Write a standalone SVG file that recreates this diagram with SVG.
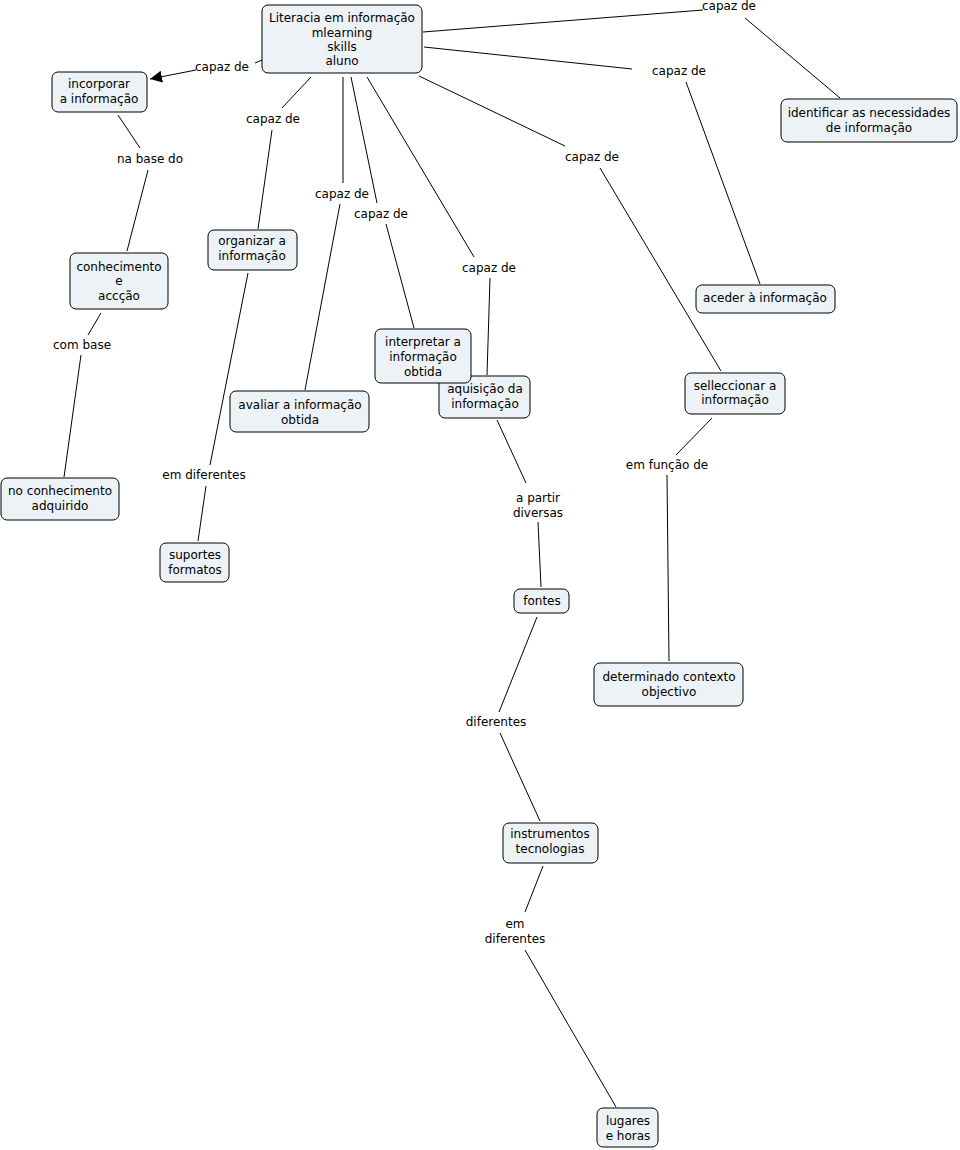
<svg xmlns="http://www.w3.org/2000/svg" width="960" height="1150" viewBox="0 0 960 1150">
<style>
.n rect{fill:#ecf2f5;stroke:#000;stroke-width:1}
text{font-family:"DejaVu Sans",Verdana,sans-serif;font-size:12px;fill:#000;text-anchor:middle}
.c line{stroke:#000;stroke-width:1}
</style>
<defs>
<marker id="ah" viewBox="0 0 10 10" refX="10" refY="5" markerWidth="12" markerHeight="12" markerUnits="userSpaceOnUse" orient="auto"><path d="M0,0L10,5L0,10z" fill="#000"/></marker>
</defs>
<rect width="960" height="1150" fill="#fff"/>
<g class="c" id="connectors">
<line x1="262" y1="60" x2="255" y2="63"/>
<line x1="196" y1="70" x2="150" y2="79" marker-end="url(#ah)"/>
<line x1="423" y1="32" x2="703" y2="10"/>
<line x1="745" y1="18" x2="840" y2="98"/>
<line x1="424" y1="47" x2="632" y2="69"/>
<line x1="686" y1="82" x2="760" y2="284"/>
<line x1="419" y1="76" x2="565" y2="146"/>
<line x1="600" y1="168" x2="721" y2="371"/>
<line x1="311" y1="77" x2="282" y2="108"/>
<line x1="272" y1="130" x2="258" y2="229"/>
<line x1="343" y1="77" x2="343" y2="183"/>
<line x1="340" y1="204" x2="305" y2="390"/>
<line x1="351" y1="77" x2="377" y2="203"/>
<line x1="386" y1="224" x2="414" y2="328"/>
<line x1="367" y1="77" x2="474" y2="257"/>
<line x1="490" y1="278" x2="487" y2="375"/>
<line x1="118" y1="115" x2="140" y2="148"/>
<line x1="148" y1="170" x2="127" y2="251"/>
<line x1="101" y1="313" x2="88" y2="335"/>
<line x1="81" y1="355" x2="64" y2="477"/>
<line x1="248" y1="273" x2="210" y2="465"/>
<line x1="206" y1="486" x2="198" y2="541"/>
<line x1="497" y1="420" x2="526" y2="483"/>
<line x1="538" y1="522" x2="541" y2="587"/>
<line x1="712" y1="418" x2="676" y2="455"/>
<line x1="667" y1="475" x2="669" y2="661"/>
<line x1="537" y1="617" x2="499" y2="712"/>
<line x1="500" y1="733" x2="540" y2="821"/>
<line x1="543" y1="866" x2="525" y2="912"/>
<line x1="525" y1="950" x2="616" y2="1107"/>
</g>
<g id="labels">
<text x="222" y="71">capaz de</text>
<text x="729" y="10">capaz de</text>
<text x="679" y="75">capaz de</text>
<text x="592" y="161">capaz de</text>
<text x="273" y="123">capaz de</text>
<text x="342" y="198">capaz de</text>
<text x="381" y="218">capaz de</text>
<text x="489" y="272">capaz de</text>
<text x="150" y="163">na base do</text>
<text x="82" y="349">com base</text>
<text x="204" y="479">em diferentes</text>
<text x="538" y="502">a partir</text>
<text x="538" y="517">diversas</text>
<text x="667" y="469">em função de</text>
<text x="496" y="726">diferentes</text>
<text x="515" y="928">em</text>
<text x="515" y="943">diferentes</text>
</g>
<g class="n" id="root"><rect x="262" y="5" width="160" height="68" rx="6"/><text x="342" y="22">Literacia em informação</text><text x="342" y="37">mlearning</text><text x="342" y="51">skills</text><text x="342" y="65">aluno</text></g>
<g class="n" id="incorporar"><rect x="52" y="72" width="95" height="40" rx="6"/><text x="99" y="88">incorporar</text><text x="99" y="103">a informação</text></g>
<g class="n" id="identificar"><rect x="781" y="99" width="176" height="43" rx="6"/><text x="869" y="117">identificar as necessidades</text><text x="869" y="132">de informação</text></g>
<g class="n" id="conhecimento"><rect x="70" y="253" width="98" height="56" rx="6"/><text x="119" y="271">conhecimento</text><text x="119" y="285">e</text><text x="119" y="300">accção</text></g>
<g class="n" id="organizar"><rect x="208" y="230" width="89" height="40" rx="6"/><text x="252" y="245">organizar a</text><text x="252" y="260">informação</text></g>
<g class="n" id="aceder"><rect x="696" y="285" width="139" height="28" rx="6"/><text x="765" y="302">aceder à informação</text></g>
<g class="n" id="aquisicao"><rect x="439" y="376" width="91" height="42" rx="6"/><text x="485" y="393">aquisição da</text><text x="485" y="408">informação</text></g>
<g class="n" id="interpretar"><rect x="375" y="329" width="96" height="54" rx="6"/><text x="423" y="346">interpretar a</text><text x="423" y="361">informação</text><text x="423" y="376">obtida</text></g>
<g class="n" id="seleccionar"><rect x="685" y="373" width="100" height="41" rx="6"/><text x="735" y="390">selleccionar a</text><text x="735" y="404">informação</text></g>
<g class="n" id="avaliar"><rect x="230" y="391" width="139" height="41" rx="6"/><text x="300" y="409">avaliar a informação</text><text x="300" y="424">obtida</text></g>
<g class="n" id="noconhecimento"><rect x="1" y="478" width="118" height="42" rx="6"/><text x="60" y="495">no conhecimento</text><text x="60" y="510">adquirido</text></g>
<g class="n" id="suportes"><rect x="160" y="543" width="69" height="39" rx="6"/><text x="195" y="559">suportes</text><text x="195" y="574">formatos</text></g>
<g class="n" id="fontes"><rect x="514" y="589" width="55" height="24" rx="6"/><text x="542" y="605">fontes</text></g>
<g class="n" id="determinado"><rect x="594" y="663" width="149" height="43" rx="6"/><text x="669" y="681">determinado contexto</text><text x="669" y="696">objectivo</text></g>
<g class="n" id="instrumentos"><rect x="503" y="823" width="95" height="40" rx="6"/><text x="550" y="838">instrumentos</text><text x="550" y="853">tecnologias</text></g>
<g class="n" id="lugares"><rect x="597" y="1108" width="61" height="39" rx="6"/><text x="628" y="1125">lugares</text><text x="628" y="1140">e horas</text></g>
</svg>
